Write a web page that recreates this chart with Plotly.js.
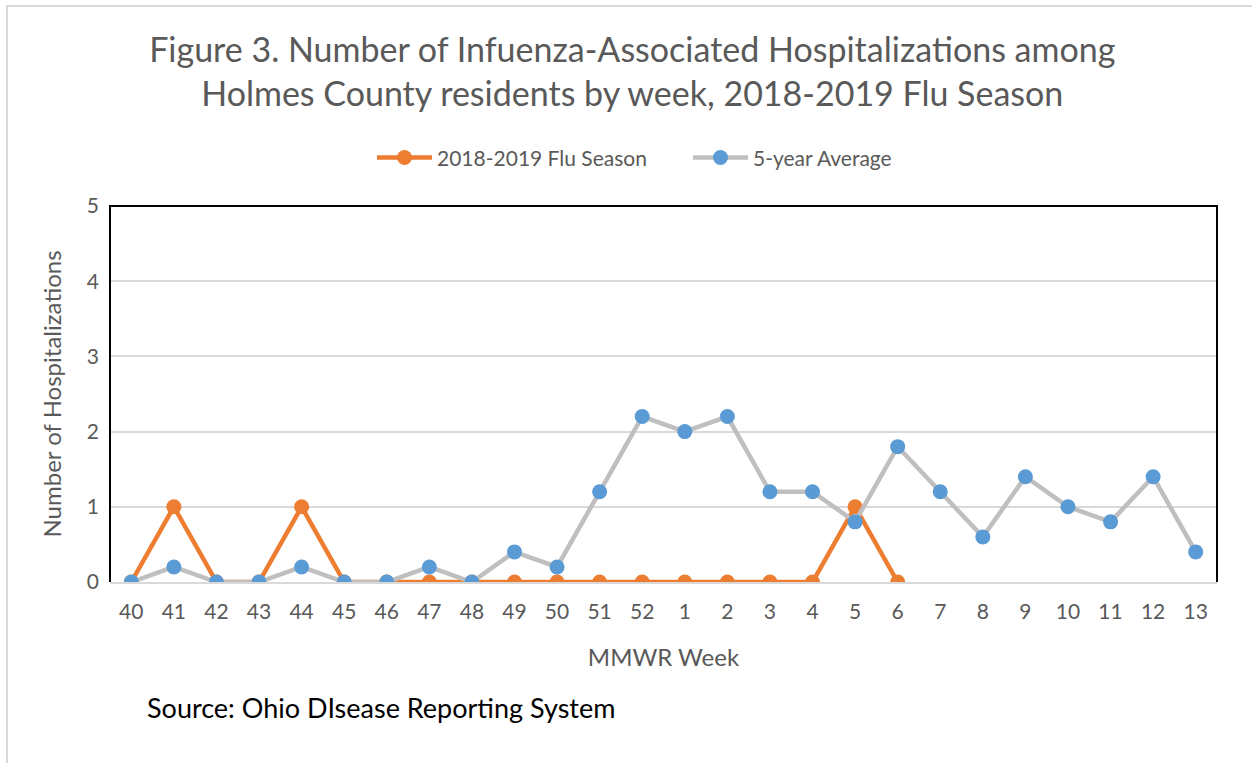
<!DOCTYPE html>
<html>
<head>
<meta charset="utf-8">
<script src="https://cdn.plot.ly/plotly-3.0.1.min.js"></script>
<style>
  html, body { margin: 0; padding: 0; background: #fff; }
  #frame { position: absolute; left: 6px; top: 5px; width: 1260px; height: 800px; border-left: 2px solid #d9d9d9; border-top: 2px solid #d9d9d9; }
  #chart { position: absolute; left: 0; top: 0; width: 1252px; height: 763px; }
</style>
</head>
<body>
<div id="frame"></div>
<div id="chart"></div>
<script>
const weeks = ["40","41","42","43","44","45","46","47","48","49","50","51","52","1","2","3","4","5","6","7","8","9","10","11","12","13"];
const seasonWeeks = ["40","41","42","43","44","45","46","47","48","49","50","51","52","1","2","3","4","5","6"];
const season2018 = [0,1,0,0,1,0,0,0,0,0,0,0,0,0,0,0,0,1,0];
const fiveYearAvg = [0,0.2,0,0,0.2,0,0,0.2,0,0.4,0.2,1.2,2.2,2.0,2.2,1.2,1.2,0.8,1.8,1.2,0.6,1.4,1.0,0.8,1.4,0.4];

const FONT = "Lato, 'Open Sans', sans-serif";
const traces = [
  {
    x: seasonWeeks, y: season2018, type: 'scatter', mode: 'lines+markers',
    name: '2018-2019 Flu Season',
    line: {color: '#ED7D31', width: 4.5},
    marker: {color: '#ED7D31', size: 15}
  },
  {
    x: weeks, y: fiveYearAvg, type: 'scatter', mode: 'lines+markers',
    name: '5-year Average',
    line: {color: '#BFBFBF', width: 4.5},
    marker: {color: '#5B9BD5', size: 15}
  }
];

const layout = {
  width: 1252, height: 763,
  paper_bgcolor: 'rgba(0,0,0,0)', plot_bgcolor: '#fff',
  margin: {l: 110, r: 35, t: 206, b: 181},
  font: {family: FONT, color: '#595959'},
  title: {
    text: 'Figure 3. Number of Infuenza-Associated Hospitalizations among<br>Holmes County residents by week, 2018-2019 Flu Season',
    font: {family: FONT, size: 34, color: '#595959'},
    x: 0.505, xref: 'container', xanchor: 'center',
    y: 1 - 62/763, yref: 'container', yanchor: 'middle'
  },
  showlegend: true,
  legend: {
    orientation: 'h', x: (372-110)/1107, xanchor: 'left', y: 1.128, yanchor: 'middle',
    font: {family: FONT, size: 21, color: '#595959'},
    itemwidth: 55, traceorder: 'normal', entrywidth: 246
  },
  xaxis: {
    type: 'category', categoryorder: 'array', categoryarray: weeks,
    range: [-0.5, 25.5],
    showgrid: false, zeroline: false,
    showline: true, linecolor: '#d9d9d9', linewidth: 2,
    ticks: '', tickfont: {family: FONT, size: 21, color: '#595959'},
    ticklabelstandoff: 10,
    title: {text: 'MMWR Week', font: {family: FONT, size: 24, color: '#595959'}, standoff: 27}
  },
  yaxis: {
    range: [0, 5], dtick: 1, tick0: 0,
    showgrid: true, gridcolor: '#d9d9d9', gridwidth: 2,
    zeroline: false, showline: false,
    ticks: '', tickfont: {family: FONT, size: 21, color: '#595959'},
    ticklabelstandoff: 10,
    title: {text: 'Number of Hospitalizations', font: {family: FONT, size: 24, color: '#595959'}, standoff: 18}
  },
  shapes: [
    {type: 'path', xref: 'paper', yref: 'paper', path: 'M0,0 L0,1 L1,1 L1,0', line: {color: '#000', width: 2}, layer: 'above'}
  ],
  annotations: [
    {text: 'Source: Ohio DIsease Reporting System', xref: 'paper', yref: 'paper',
     x: (145-110)/1107, y: -(707-582)/376, xanchor: 'left', yanchor: 'middle',
     showarrow: false, font: {family: FONT, size: 27, color: '#000'}}
  ]
};

Plotly.newPlot('chart', traces, layout, {displayModeBar: false, staticPlot: true});
</script>
</body>
</html>
